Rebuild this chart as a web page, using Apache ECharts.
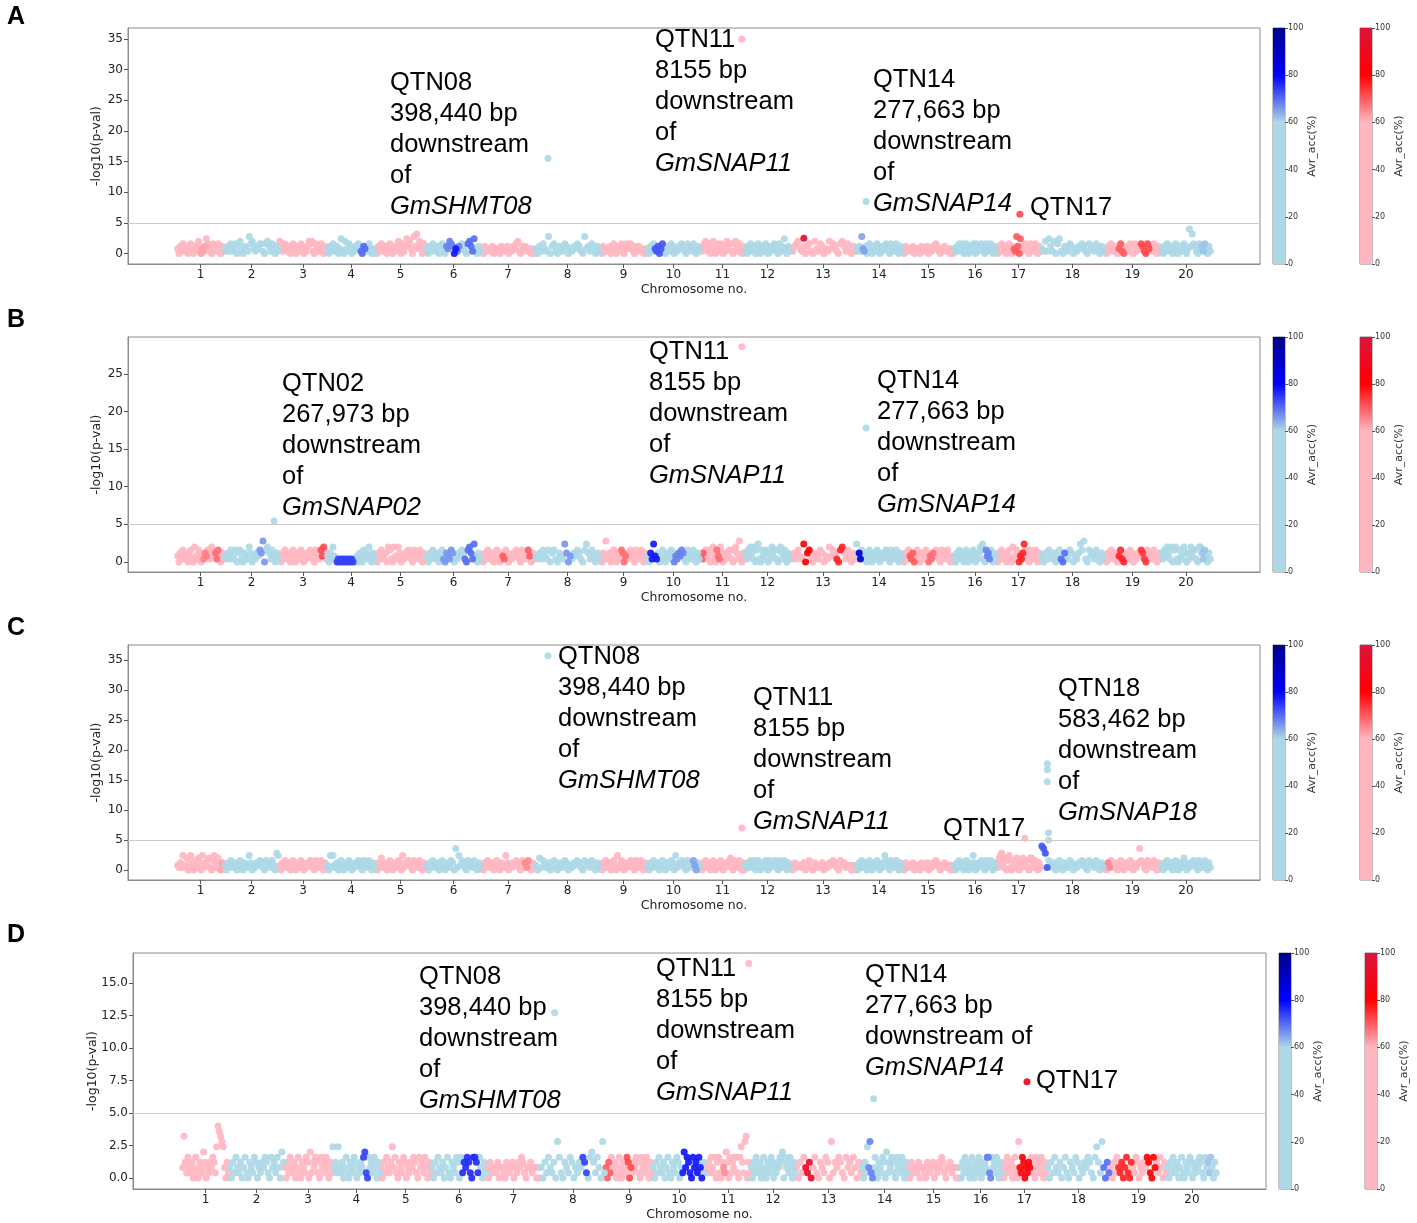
<!DOCTYPE html>
<html>
<head>
<meta charset="utf-8">
<script src="https://cdn.jsdelivr.net/npm/echarts@6/dist/echarts.min.js"></script>
<style>
  html, body { margin: 0; padding: 0; background: #fff; }
  #chart { width: 1417px; height: 1223px; }
</style>
</head>
<body>
<div id="chart"></div>
<script>
// relative chromosome widths (SNP-index spacing on the x axis)
const chromLen = [47, 55, 48, 48, 51, 55, 54, 65, 47, 53, 45, 45, 66, 46, 52, 42, 45, 63, 57, 50];

// band heights per chromosome, one base-36 digit per SNP, value = digit * 0.4
const bandA = [
  '203142130241032153021364310423142031', '213142140351032174521324410453142031',
  '521342130241032143021354510423142031', '203142130261052143021324310323142020',
  '203142130241032153041364520738253041', '203142130341032543021324310453162031',
  '203122130221032123021324510323122020', '203142170341032143021324310723142031',
  '203122130241032143024324310323122020', '203142130241032143021324310423142031',
  '213452140351042143031524410453142031', '203142130241032143021324310423162031',
  '213452130341052143021524310453142031', '213172130241032143021324310423142031',
  '203122130221032123021324310223122020', '213142140341032143041324310423142031',
  '203142130241032173061324310423142031', '215163150461032143021324310423142031',
  '203142130241032143041324310423142031', '20314213024103214302a384310423142031'
];
const bandB = [
  '203142130241052143021324315423142031', '213142140341032153021324370453142031',
  '203142130241032143021324310423142541', '203152101010101010101020310423152031',
  '203142130541052153021324310423142031', '203142130241032143021324310453162031',
  '203142130241032143021324310423142031', '213142140341032163021324310463142031',
  '203172130241032143021324310423142031', '203162130241032143021324310423142031',
  '213142140351042153031324410453172031', '314253150461042143031524410453142031',
  '213142160341032143021524310453142031', '623142130241032143021324310423142031',
  '203142130241032143021324310423142020', '203142130241032143021354610423142031',
  '203142130241052143021364310423142031', '203142130241032143021364710423142031',
  '203142130241032143021324310423142031', '314253150451042153031524410553142031'
];
const bandC = [
  '213162150361042153061324510463152031', '203142130241032163021324310423142076',
  '203142130241032143021324310423142031', '206162130241032143021324310423142031',
  '203152130241032143061324310423142031', '203142130241032143091624310423142031',
  '203142130241032163021324310423142031', '205142130241032143021324310423142031',
  '203142130241062143021324310423142031', '203142130241032143061324310423142031',
  '203142130241032143021324510423142030', '213142140341032143041324310423142031',
  '203122130241032123021324310423122020', '203142130241032143021364310423142031',
  '203122130221032123021324310223122020', '203142130241032163021324310423142031',
  '315673150461042153031524410553142031', 'a97142130241032143021324310423142031',
  '203142130241032143021394310423142031', '203142130241032153021324310423142031'
];
const bandD = [
  '283142130241032153021324316a98762031', '203142130241032143021324310423142053',
  '203142130241032143051324310423142031', '623162130241032143021324510423142031',
  '203142136241032143021324310423142031', '203142130241032143041324310443142031',
  '203122130221032123021324310223122020', '203142130741032143021324310453142071',
  '203142130241032143021324310423142031', '203142130241032143021524310423142031',
  '213142140341032153041324410463178031', '203142130241032143021324350423142031',
  '203142130241032143071324310423142031', '203162710241032143051324310423142031',
  '203122130221032123021324310223122020', '203142130241032143021324410423142031',
  '203142130241072143021324310423142031', '203142130241032143021324310463172031',
  '203142130241032143021324310423142031', '203142130241032143021324310423142031'
];

// stretches of higher accuracy: [chromosome, from fraction, to fraction, Avr_acc %]
const accA = [[1,0.5,0.6,62],[4,0.7,0.8,70],[6,0.35,0.6,68],[6,0.5,0.56,78],[6,0.75,0.9,70],[10,0.15,0.3,72],
  [14,0.1,0.2,65],[15,0.2,0.3,60],[17,0.4,0.55,70],[19,0.25,0.35,70],[19,0.65,0.8,72],[20,0.8,0.9,62]];
const accB = [[1,0.55,0.65,66],[1,0.8,0.9,68],[2,0.65,0.75,66],[3,0.85,0.95,72],[4,0.2,0.55,74],[6,0.3,0.5,66],
  [6,0.7,0.9,70],[7,0.4,0.45,70],[7,0.85,0.92,70],[8,0.45,0.55,66],[9,0.45,0.55,68],[10,0.05,0.2,78],
  [10,0.5,0.7,68],[11,0,0.08,70],[11,0.35,0.45,68],[13,0.2,0.3,80],[13,0.7,0.8,76],[14,0.05,0.12,88],
  [15,0.15,0.25,70],[15,0.5,0.6,68],[16,0.75,0.85,68],[17,0.5,0.65,76],[18,0.3,0.4,70],[19,0.25,0.35,76],
  [19,0.65,0.75,74],[20,0.8,0.9,62]];
const accC = [[1,0.92,1,62],[7,0.8,0.9,65],[10,0.85,0.95,65],[18,0,0.1,72],[19,0.05,0.1,65]];
const accD = [[4,0.65,0.75,74],[6,0.55,0.85,76],[8,0.65,0.72,74],[9,0,0.1,70],[9,0.45,0.55,72],[10,0.55,0.95,78],
  [11,0.4,0.45,65],[13,0.15,0.25,92],[14,0.15,0.25,68],[16,0.65,0.75,68],[17,0.4,0.65,84],[18,0.9,1,70],
  [19,0.15,0.4,76],[19,0.65,0.8,80],[20,0.8,0.9,62]];

// single SNPs: [chromosome, fraction, -log10(p), Avr_acc %]
const peaksA = [[8,0.2,15.5,30],[11,0.93,35,30],[14,0.22,8.5,30],[17,0.53,6.4,72],[13,0.21,2.5,96]];
const peaksB = [[2,0.91,5.45,30],[11,0.93,28.6,30],[14,0.22,17.8,30]];
const peaksC = [[8,0.2,35.7,30],[11,0.93,7,30],[17,0.64,5.3,30],[18,0.1,17.7,30],[18,0.1,16.7,30],
  [18,0.1,14.7,30],[18,0.12,6.2,30],[18,0.12,5.0,30]];
const peaksD = [[8,0.22,12.7,30],[11,0.96,16.5,30],[14,0.26,6.1,30],[17,0.56,7.4,88]];

const yTicksA = [0, 5, 10, 15, 20, 25, 30, 35];
const yTicksB = [0, 5, 10, 15, 20, 25];
const yTicksD = [0, 2.5, 5, 7.5, 10, 12.5, 15];
const threshold = 5;

const notesA = [['QTN08','398,440 bp','downstream','of','GmSHMT08'], ['QTN11','8155 bp','downstream','of','GmSNAP11'],
  ['QTN14','277,663 bp','downstream','of','GmSNAP14'], ['QTN17']];
const notesB = [['QTN02','267,973 bp','downstream','of','GmSNAP02'], ['QTN11','8155 bp','downstream','of','GmSNAP11'],
  ['QTN14','277,663 bp','downstream','of','GmSNAP14']];
const notesC = [['QTN08','398,440 bp','downstream','of','GmSHMT08'], ['QTN11','8155 bp','downstream','of','GmSNAP11'],
  ['QTN17'], ['QTN18','583,462 bp','downstream','of','GmSNAP18']];
const notesD = [['QTN08','398,440 bp','downstream','of','GmSHMT08'], ['QTN11','8155 bp','downstream','of','GmSNAP11'],
  ['QTN14','277,663 bp','downstream of','GmSNAP14'], ['QTN17']];
const letters = ['A', 'B', 'C', 'D'];

const PINK = '#ffb6c1', LBLUE = '#add8e6';
const AX = 'DejaVu Sans', TXT = 'Liberation Sans';

const panels = [
  { band: bandA, acc: accA, peaks: peaksA, notes: notesA, yTicks: yTicksA, yMin: -1.7, yMax: 36.8, dec: 0,
    top: 28, left: 128, width: 1132, height: 236, cbBlue: 1273, cbRed: 1360, letterY: 17, nameGap: 25,
    notePos: [[390, 83], [655, 40], [873, 80], [1030, 208]] },
  { band: bandB, acc: accB, peaks: peaksB, notes: notesB, yTicks: yTicksB, yMin: -1.33, yMax: 29.9, dec: 0,
    top: 337, left: 128, width: 1132, height: 235, cbBlue: 1273, cbRed: 1360, letterY: 320, nameGap: 25,
    notePos: [[282, 384], [649, 352], [877, 381]] },
  { band: bandC, acc: accC, peaks: peaksC, notes: notesC, yTicks: yTicksA, yMin: -1.67, yMax: 37.5, dec: 0,
    top: 645, left: 128, width: 1132, height: 235, cbBlue: 1273, cbRed: 1360, letterY: 628, nameGap: 25,
    notePos: [[558, 657], [753, 698], [943, 829], [1058, 689]] },
  { band: bandD, acc: accD, peaks: peaksD, notes: notesD, yTicks: yTicksD, yMin: -0.85, yMax: 17.3, dec: 1,
    top: 953, left: 133, width: 1133, height: 236, cbBlue: 1279, cbRed: 1365, letterY: 935, nameGap: 34,
    notePos: [[419, 977], [656, 969], [865, 975], [1036, 1081]] }
];

const chromStart = [];
let run = 0;
chromLen.forEach(l => { chromStart.push(run); run += l; });
const chromMid = chromLen.map((l, i) => chromStart[i] + l / 2);

function accAt(list, chr, frac) {
  let a = 25;
  list.forEach(r => { if (r[0] === chr && frac >= r[1] && frac <= r[2]) a = Math.max(a, r[3]); });
  return a;
}

const grids = [], xAxes = [], yAxes = [], series = [], graphics = [];
const pinkIdx = [], blueIdx = [];

panels.forEach((p, pi) => {
  const gi = grids.length;
  grids.push({ left: p.left, top: p.top, width: p.width, height: p.height, show: true,
    borderColor: '#8c8c8c', borderWidth: 1, backgroundColor: 'transparent' });
  xAxes.push({
    type: 'value', gridIndex: gi, min: -49, max: 1083,
    name: 'Chromosome no.', nameLocation: 'middle', nameGap: 19, nameMoveOverlap: false,
    nameTextStyle: { fontFamily: AX, fontSize: 12.5, color: '#222' },
    axisLine: { show: true, onZero: false, lineStyle: { color: '#8c8c8c' } },
    axisTick: { show: true, length: 4, customValues: chromMid, lineStyle: { color: '#555' } },
    axisLabel: { customValues: chromMid, margin: 5, fontFamily: AX, fontSize: 12, color: '#222',
      formatter: v => String(chromMid.findIndex(m => Math.abs(m - v) < 0.01) + 1) },
    splitLine: { show: false }
  });
  yAxes.push({
    type: 'value', gridIndex: gi, min: p.yMin, max: p.yMax,
    name: '-log10(p-val)', nameLocation: 'middle', nameGap: p.nameGap, nameRotate: 90, nameMoveOverlap: false,
    nameTextStyle: { fontFamily: AX, fontSize: 12.5, color: '#222' },
    axisLine: { show: true, onZero: false, lineStyle: { color: '#8c8c8c' } },
    axisTick: { show: true, length: 4, customValues: p.yTicks, lineStyle: { color: '#555' } },
    axisLabel: { customValues: p.yTicks, margin: 5, fontFamily: AX, fontSize: 12, color: '#222',
      formatter: v => v.toFixed(p.dec) },
    splitLine: { show: false }
  });
  const ax = xAxes.length - 1;

  const odd = [], even = [];
  p.band.forEach((s, c) => {
    const n = s.length;
    for (let j = 0; j < n; j++) {
      const frac = (j + 0.5) / n;
      const pt = [chromStart[c] + frac * chromLen[c], parseInt(s[j], 36) * 0.4, accAt(p.acc, c + 1, frac)];
      (c % 2 === 0 ? odd : even).push(pt);
    }
  });
  p.peaks.forEach(k => {
    const c = k[0] - 1;
    const pt = [chromStart[c] + k[1] * chromLen[c], k[2], k[3]];
    (c % 2 === 0 ? odd : even).push(pt);
  });
  odd.sort((a, b) => a[2] - b[2]);
  even.sort((a, b) => a[2] - b[2]);

  pinkIdx.push(series.length);
  series.push({
    type: 'scatter', xAxisIndex: ax, yAxisIndex: ax, data: odd, symbolSize: 7, silent: true,
    itemStyle: { opacity: 0.92 },
    markLine: { silent: true, symbol: 'none', label: { show: false },
      lineStyle: { color: '#cccccc', width: 1, type: 'solid' }, data: [{ yAxis: threshold }] }
  });
  blueIdx.push(series.length);
  series.push({
    type: 'scatter', xAxisIndex: ax, yAxisIndex: ax, data: even, symbolSize: 7, silent: true,
    itemStyle: { opacity: 0.92 }
  });

  // colour bars
  [[p.cbBlue, [LBLUE, LBLUE, '#0000ff', '#00008b']], [p.cbRed, [PINK, PINK, '#ff0000', '#dc143c']]].forEach(cb => {
    const cg = grids.length;
    grids.push({ left: cb[0], top: p.top, width: 12, height: p.height, show: true,
      borderColor: '#666', borderWidth: 0.8 });
    xAxes.push({ type: 'category', gridIndex: cg, data: [''], show: false });
    yAxes.push({
      type: 'value', gridIndex: cg, position: 'right', min: 0, max: 100, interval: 20,
      name: 'Avr_acc(%)', nameLocation: 'middle', nameGap: 22, nameRotate: 90, nameMoveOverlap: false,
      nameTextStyle: { fontFamily: AX, fontSize: 11, color: '#333' },
      axisLine: { show: false },
      axisTick: { show: true, length: 3, lineStyle: { color: '#555' } },
      axisLabel: { margin: 3, fontFamily: AX, fontSize: 8, color: '#333' },
      splitLine: { show: false }
    });
    const ci = xAxes.length - 1;
    series.push({
      type: 'bar', xAxisIndex: ci, yAxisIndex: ci, data: [100], barWidth: '100%', silent: true,
      itemStyle: { color: { type: 'linear', x: 0, y: 1, x2: 0, y2: 0, colorStops: [
        { offset: 0, color: cb[1][0] }, { offset: 0.6, color: cb[1][1] },
        { offset: 0.8, color: cb[1][2] }, { offset: 1, color: cb[1][3] }] } }
    });
  });

  // annotations
  p.notes.forEach((lines, ni) => {
    const pos = p.notePos[ni];
    lines.forEach((t, li) => {
      graphics.push({ type: 'text', x: pos[0], y: pos[1] + li * 31, silent: true,
        style: { text: t, fill: '#000', verticalAlign: 'middle',
          font: (t.startsWith('Gm') ? 'italic ' : '') + '25.5px "' + TXT + '"' } });
    });
  });
  graphics.push({ type: 'text', x: 7, y: p.letterY, silent: true,
    style: { text: letters[pi], fill: '#000', verticalAlign: 'middle', font: 'bold 25px "' + TXT + '"' } });
});

const chart = echarts.init(document.getElementById('chart'));
chart.setOption({
  animation: false,
  backgroundColor: '#fff',
  grid: grids,
  xAxis: xAxes,
  yAxis: yAxes,
  visualMap: [
    { show: false, type: 'continuous', min: 0, max: 100, dimension: 2, seriesIndex: pinkIdx,
      inRange: { color: [PINK, PINK, PINK, PINK, '#ff0000', '#dc143c'] } },
    { show: false, type: 'continuous', min: 0, max: 100, dimension: 2, seriesIndex: blueIdx,
      inRange: { color: [LBLUE, LBLUE, LBLUE, LBLUE, '#0000ff', '#00008b'] } }
  ],
  series: series,
  graphic: graphics
});
</script>
</body>
</html>
